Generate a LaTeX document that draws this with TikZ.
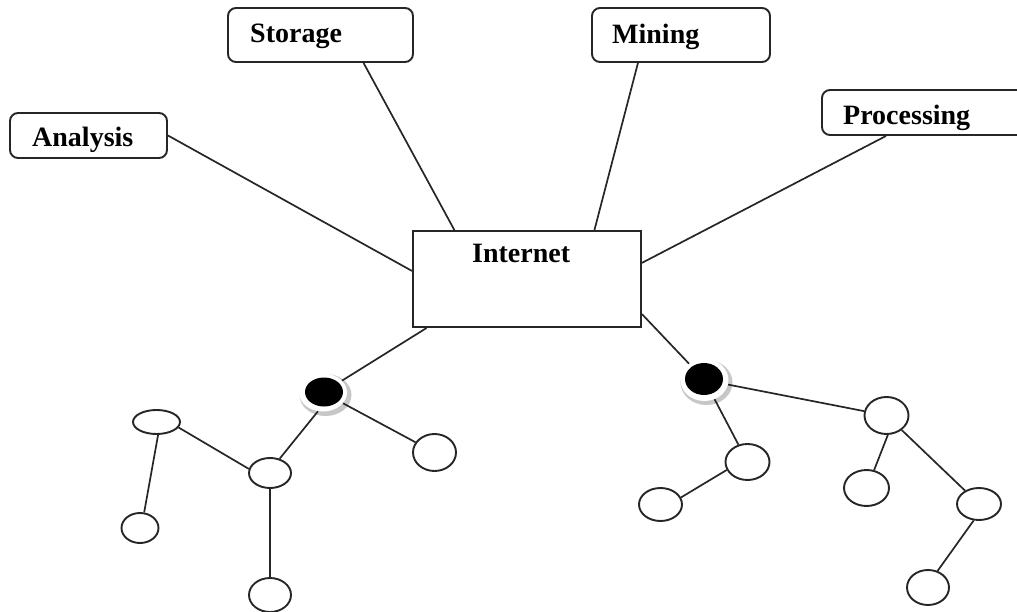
\documentclass[tikz,border=0pt]{standalone}
\usepackage{fontspec}
\setmainfont{Liberation Serif}
\usetikzlibrary{shapes.geometric,calc}

\begin{document}
\begin{tikzpicture}[x=1pt,y=-1pt,
  box/.style={draw=black!85,line width=1.9pt,rounded corners=8pt,fill=white,inner sep=0pt},
  hub/.style={draw=black!85,line width=2pt,fill=white,inner sep=0pt},
  lbl/.style={anchor=base west,inner sep=0pt,font=\bfseries\fontsize{28}{30}\selectfont},
  leaf/.style={ellipse,draw=black!85,line width=1.9pt,fill=white,inner sep=0pt},
  halo/.style={ellipse,fill=white,inner sep=0pt},
  core/.style={ellipse,fill=black,inner sep=0pt},
  link/.style={draw=black!85,line width=1.7pt},
]
\useasboundingbox (0,0) rectangle (1017,612);
\clip (0,0) rectangle (1017,612);
\fill[white] (0,0) rectangle (1017,612);

% service boxes
\node[box,minimum width=157,minimum height=45] (an) at (88.5,135.5) {};
\node[box,minimum width=185,minimum height=54] (st) at (320.5,35) {};
\node[box,minimum width=178,minimum height=54] (mi) at (681,35) {};
\node[box,minimum width=238,minimum height=45] (pr) at (941,112.5) {};
\node[lbl] (tan) at (32,147) {Analysis};
\node[lbl] (tst) at (250,43) {Storage};
\node[lbl] (tmi) at (612,43.3) {Mining};
\node[lbl] (tpr) at (843,125) {Processing};

% central node
\node[hub,minimum width=228,minimum height=96] (net) at (527,279) {};
\node[lbl] (tnet) at (472,262.7) {Internet};

% access points: black core in a white ring with a soft grey rim
\fill[black!22] (325.5,395) ellipse [x radius=26, y radius=21];
\node[halo,minimum width=48,minimum height=38] (dl) at (323,392.5) {};
\node[core,minimum width=38,minimum height=29] (dlc) at (324,392) {};
\fill[black!22] (706.5,382.5) ellipse [x radius=26, y radius=22.5];
\node[halo,minimum width=48,minimum height=42] (dr) at (704.5,380) {};
\node[core,minimum width=38,minimum height=32] (drc) at (704,379) {};

% devices
\node[leaf,minimum width=47,minimum height=24] (l1) at (156.5,422) {};
\node[leaf,minimum width=42,minimum height=30] (l2) at (270,473) {};
\node[leaf,minimum width=37,minimum height=30] (l3) at (140,528) {};
\node[leaf,minimum width=42,minimum height=34] (l4) at (270,595) {};
\node[leaf,minimum width=43,minimum height=37] (l5) at (434.5,452.5) {};
\node[leaf,minimum width=44,minimum height=36] (r1) at (747.5,462) {};
\node[leaf,minimum width=43,minimum height=33] (r2) at (660.5,504.5) {};
\node[leaf,minimum width=44,minimum height=37] (r3) at (886.5,415.5) {};
\node[leaf,minimum width=45,minimum height=36] (r4) at (866.5,488) {};
\node[leaf,minimum width=44,minimum height=32] (r5) at (979,504) {};
\node[leaf,minimum width=42,minimum height=35] (r6) at (928,587.5) {};

% links to the services
\draw[link] (an.east) -- (net.176.5);
\draw[link] (st.327) -- (net.146);
\draw[link] (mi.213.4) -- (net.36.9);
\draw[link] ($(pr.south west)+(65,0)$) -- (net.8.5);

% links to the access points
\draw[link] (net.206) -- (dl);
\draw[link] (net.343) -- (dr);

% left tree
\draw[link] (dl) -- (l5);
\draw[link] (dl.255) -- (l2.56);
\draw[link] (l1.346) -- (l2.169);
\draw[link] (l1.277) -- (l3.75);
\draw[link] (l2.south) -- (l4.north);

% right tree
\draw[link] (dr) -- (r1);
\draw[link] (dr) -- (r3);
\draw[link] (r1.201) -- (r2.19);
\draw[link] (r3.274) -- (r4.67);
\draw[link] (r3) -- (r5);
\draw[link] (r5.252) -- (r6.60);
\end{tikzpicture}
\end{document}
